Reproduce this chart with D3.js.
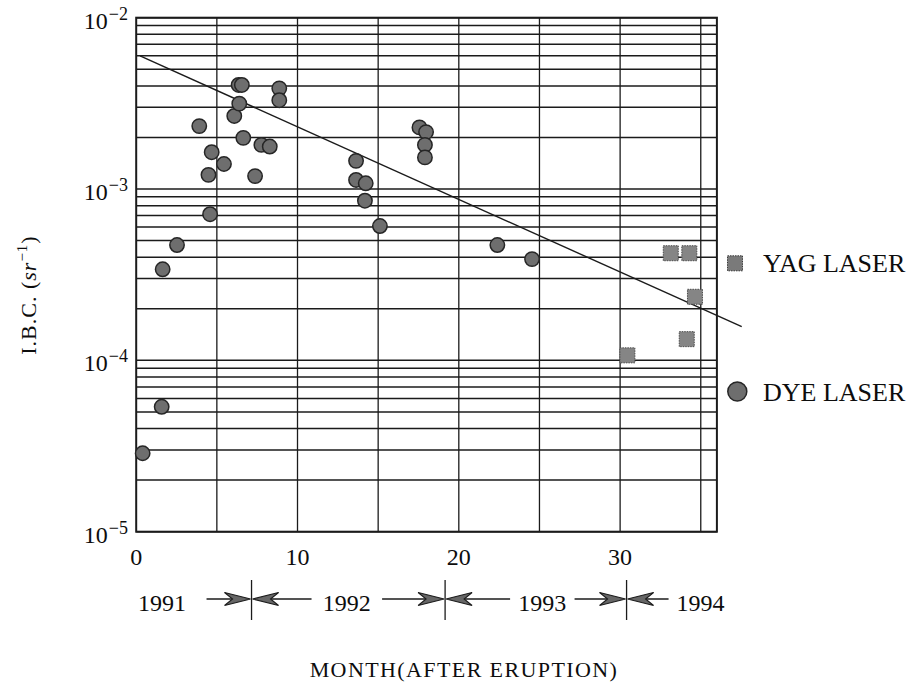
<!DOCTYPE html>
<html>
<head>
<meta charset="utf-8">
<script src="https://cdn.jsdelivr.net/npm/d3@7"></script>
<style>
  html, body { margin: 0; padding: 0; background: #fff; }
  svg { display: block; }
  text { font-family: "Liberation Serif", "Times New Roman", serif; fill: #0d0d0d; }
</style>
</head>
<body>
<svg id="chart" width="919" height="684"></svg>
<script>
// Integrated backscatter coefficient (I.B.C.) by month after the eruption
const dyeMonths = [0.40, 1.58, 1.64, 2.53, 3.91, 4.58, 4.48, 4.68, 5.44, 6.08,
                   6.39, 6.35, 6.55, 6.64, 7.37, 7.76, 8.28, 8.87, 8.87, 13.63,
                   13.63, 14.23, 14.18, 15.11, 17.56, 17.97, 17.90, 17.90, 22.39, 24.54];
const dyeIbc = [2.87e-5, 5.36e-5, 3.40e-4, 4.71e-4, 2.33e-3, 7.13e-4, 1.21e-3, 1.64e-3, 1.40e-3, 2.67e-3,
                3.15e-3, 4.05e-3, 4.05e-3, 1.99e-3, 1.19e-3, 1.81e-3, 1.77e-3, 3.87e-3, 3.30e-3, 1.46e-3,
                1.13e-3, 1.08e-3, 8.55e-4, 6.08e-4, 2.29e-3, 2.15e-3, 1.81e-3, 1.53e-3, 4.71e-4, 3.90e-4];

const yagMonths = [30.45, 33.14, 34.29, 34.64, 34.13];
const yagIbc = [1.07e-4, 4.22e-4, 4.22e-4, 2.35e-4, 1.33e-4];

// exponential decay trend line (end points)
const fitMonths = [0.24, 37.54];
const fitIbc = [5.98e-3, 1.572e-4];

const xTicks = [0, 10, 20, 30];
const xGrid = [5, 10, 15, 20, 25, 30, 35];
const yTicks = [1e-2, 1e-3, 1e-4, 1e-5];
const yTickExponents = ["\u22122", "\u22123", "\u22124", "\u22125"];

const years = ["1991", "1992", "1993", "1994"];
const yearBounds = [7.15, 19.15, 30.4];   // month at each new year

const seriesNames = ["YAG LASER", "DYE LASER"];

// ---------------------------------------------------------------
const svg = d3.select("#chart");

const x = d3.scaleLinear().domain([0, 36]).range([136.2, 716.9]);
const y = d3.scaleLog().domain([1e-5, 1e-2]).range([531.7, 17.7]);

const ink = "#1b1b1b";

// horizontal log grid
const hGrid = [];
for (let e = -5; e < -2; e++) {
  for (let k = 1; k <= 9; k++) hGrid.push(k * Math.pow(10, e));
}
hGrid.push(1e-2);

const grid = svg.append("g");
grid.selectAll("line.h").data(hGrid).join("line")
  .attr("class", "h")
  .attr("x1", x(0)).attr("x2", x(36))
  .attr("y1", d => y(d)).attr("y2", d => y(d))
  .attr("stroke", ink).attr("stroke-width", 1.5);

grid.selectAll("line.v").data(xGrid).join("line")
  .attr("class", "v")
  .attr("x1", d => x(d)).attr("x2", d => x(d))
  .attr("y1", y(1e-2)).attr("y2", y(1e-5))
  .attr("stroke", ink).attr("stroke-width", 1.3);

// frame
svg.append("rect")
  .attr("x", x(0)).attr("y", y(1e-2))
  .attr("width", x(36) - x(0)).attr("height", y(1e-5) - y(1e-2))
  .attr("fill", "none").attr("stroke", ink).attr("stroke-width", 2);

// y tick labels 10^n
const yLab = svg.append("g").selectAll("text").data(yTicks).join("text")
  .attr("x", 128).attr("y", d => y(d) + 11)
  .attr("text-anchor", "end")
  .style("font-size", "24px");
yLab.append("tspan").text("10");
yLab.append("tspan")
  .attr("dy", -9)
  .attr("dx", 1)
  .style("font-size", "18px")
  .text((d, i) => yTickExponents[i]);

// x tick labels
svg.append("g").selectAll("text").data(xTicks).join("text")
  .attr("x", d => x(d)).attr("y", 565)
  .attr("text-anchor", "middle")
  .style("font-size", "24px")
  .text(d => d);

// trend line
const line = d3.line().x(d => x(d[0])).y(d => y(d[1]));
svg.append("path")
  .datum(d3.zip(fitMonths, fitIbc))
  .attr("d", line)
  .attr("fill", "none").attr("stroke", ink).attr("stroke-width", 1.4);

// dye laser points
svg.append("g").selectAll("circle").data(d3.zip(dyeMonths, dyeIbc)).join("circle")
  .attr("cx", d => x(d[0])).attr("cy", d => y(d[1]))
  .attr("r", 7.2)
  .attr("fill", "#6e6e6e").attr("stroke", "#262626").attr("stroke-width", 1.5);

// yag laser points
const sq = 15;
svg.append("g").selectAll("rect").data(d3.zip(yagMonths, yagIbc)).join("rect")
  .attr("x", d => x(d[0]) - sq / 2).attr("y", d => y(d[1]) - sq / 2)
  .attr("width", sq).attr("height", sq)
  .attr("fill", "#858585").attr("stroke", "#4a4a4a").attr("stroke-width", 1)
  .attr("stroke-dasharray", "1.5,1");

// legend
const legend = svg.append("g");
legend.append("rect")
  .attr("x", 735 - 7.5).attr("y", 263.3 - 7.5).attr("width", 15).attr("height", 15)
  .attr("fill", "#7a7a7a").attr("stroke", "#3a3a3a").attr("stroke-width", 1)
  .attr("stroke-dasharray", "1.5,1");
legend.append("text").attr("x", 763).attr("y", 272)
  .style("font-size", "26px").text(seriesNames[0]);
legend.append("circle")
  .attr("cx", 737.3).attr("cy", 391.5).attr("r", 9.5)
  .attr("fill", "#6e6e6e").attr("stroke", "#262626").attr("stroke-width", 1.5);
legend.append("text").attr("x", 763).attr("y", 400.5)
  .style("font-size", "26px").text(seriesNames[1]);

// axis titles
const yTitle = svg.append("text")
  .attr("transform", "translate(36,295) rotate(-90)")
  .attr("text-anchor", "middle")
  .style("font-size", "22px")
  .style("letter-spacing", "1px");
yTitle.append("tspan").text("I.B.C. (");
yTitle.append("tspan").style("font-style", "italic").text("sr");
yTitle.append("tspan").attr("dy", -9).style("font-size", "15px").text("\u22121");
yTitle.append("tspan").attr("dy", 9).text(")");

svg.append("text")
  .attr("x", 464).attr("y", 677)
  .attr("text-anchor", "middle")
  .style("font-size", "22px")
  .style("letter-spacing", "1.4px")
  .text("MONTH(AFTER ERUPTION)");

// year band beneath the axis
const yearRow = svg.append("g");
const arrowY = 599;
const rightLen = [45, 63, 52];
const leftLen = [60, 65, 42];
const bx = yearBounds.map(m => x(m));

function arrowHead(tipX, dir) {
  // stealth-style head, dir = +1 pointing right, -1 pointing left
  const L = 26, W = 6.5, N = 18;
  return `M${tipX},${arrowY} L${tipX - dir * L},${arrowY - W} L${tipX - dir * N},${arrowY} L${tipX - dir * L},${arrowY + W} Z`;
}

bx.forEach((b, i) => {
  yearRow.append("line")
    .attr("x1", b).attr("x2", b).attr("y1", 580).attr("y2", 620)
    .attr("stroke", ink).attr("stroke-width", 1.3);
  // arrow into the boundary from the left
  yearRow.append("line")
    .attr("x1", b - rightLen[i]).attr("x2", b - 16).attr("y1", arrowY).attr("y2", arrowY)
    .attr("stroke", ink).attr("stroke-width", 1.5);
  yearRow.append("path").attr("d", arrowHead(b - 1, 1))
    .attr("fill", "#666").attr("stroke", ink).attr("stroke-width", 1.1);
  // arrow into the boundary from the right
  yearRow.append("line")
    .attr("x1", b + 16).attr("x2", b + leftLen[i]).attr("y1", arrowY).attr("y2", arrowY)
    .attr("stroke", ink).attr("stroke-width", 1.5);
  yearRow.append("path").attr("d", arrowHead(b + 1, -1))
    .attr("fill", "#666").attr("stroke", ink).attr("stroke-width", 1.1);
});

const yearX = years.map((yr, i) => {
  if (i === 0) return bx[0] - rightLen[0] - 44.5;
  if (i === years.length - 1) return bx[i - 1] + leftLen[i - 1] + 32;
  return ((bx[i - 1] + leftLen[i - 1]) + (bx[i] - rightLen[i])) / 2;
});

yearRow.selectAll("text").data(years).join("text")
  .attr("x", (d, i) => yearX[i]).attr("y", 611)
  .attr("text-anchor", "middle")
  .style("font-size", "24px")
  .text(d => d);
</script>
</body>
</html>
